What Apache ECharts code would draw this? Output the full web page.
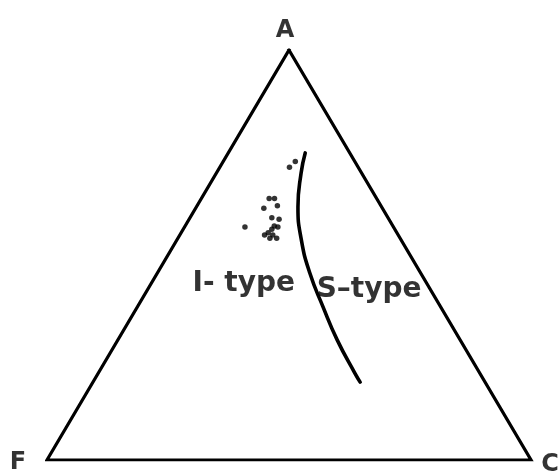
<!DOCTYPE html>
<html>
<head>
<meta charset="utf-8">
<script src="https://cdn.jsdelivr.net/npm/echarts@6/dist/echarts.min.js"></script>
<style>
  html, body { margin: 0; padding: 0; background: #fff; }
  #chart { width: 559px; height: 476px; }
</style>
</head>
<body>
<div id="chart"></div>
<script>
// AFC ternary diagram: compositions given as [A, C, F] in percent.
const vertexNames = ['A', 'F', 'C'];
const vertexComps = [[100, 0, 0], [0, 0, 100], [0, 100, 0]];

// Analysed samples [A, C, F]
const samples = [
  [71.4, 14.4, 14.2], [72.8, 14.9, 12.3], [63.8, 14.0, 22.2], [63.8, 15.1, 21.1],
  [61.4, 14.1, 24.5], [62.0, 16.6, 21.4], [59.1, 16.9, 24.0], [58.7, 18.6, 22.7],
  [56.8, 12.5, 30.7], [57.1, 18.4, 24.5], [56.8, 19.3, 23.9], [56.3, 18.3, 25.4],
  [54.9, 17.5, 27.6], [55.4, 18.0, 26.6], [54.1, 19.0, 26.9], [54.1, 20.4, 25.5],
  [54.9, 19.2, 25.9]
];

// I-type / S-type dividing line [A, C, F]
const divider = [
  [74.9, 15.9, 9.2], [70.0, 17.5, 12.5], [61.7, 21.0, 17.3], [53.7, 25.7, 20.6],
  [45.6, 31.5, 22.9], [37.3, 38.4, 24.3], [29.3, 45.3, 25.4], [21.2, 53.0, 25.8],
  [19.0, 55.2, 25.8]
];

// Field labels [A, C, F]
const fieldNames = ['I- type', 'S\u2013type'];
const fieldComps = [[42.9, 19.2, 37.9], [41.5, 45.8, 12.7]];

// ternary -> cartesian (x along F–C base, y = A fraction)
function toXY(comp) {
  const a = comp[0] / 100, c = comp[1] / 100;
  return [c + a / 2, a];
}

const triangle = [vertexComps[0], vertexComps[2], vertexComps[1], vertexComps[0]].map(toXY);
const font = 'DejaVu Sans';
const ink = '#000000';

const vertexLabelOffsets = [[-4, -19], [-29, 3], [19, 5]];

const chart = echarts.init(document.getElementById('chart'));
chart.setOption({
  animation: false,
  backgroundColor: '#ffffff',
  grid: { left: 47, right: 28, top: 50, bottom: 16 },
  xAxis: { type: 'value', min: 0, max: 1, show: false },
  yAxis: { type: 'value', min: 0, max: 1, show: false },
  series: [
    {
      type: 'line',
      data: triangle,
      symbol: 'none',
      lineStyle: { color: ink, width: 3.2, join: 'miter', cap: 'square' },
      silent: true
    },
    {
      type: 'line',
      data: divider.map(toXY),
      symbol: 'none',
      smooth: 0.5,
      lineStyle: { color: ink, width: 3.6, cap: 'round' },
      silent: true
    },
    {
      type: 'scatter',
      data: samples.map(toXY),
      symbol: 'circle',
      symbolSize: 5.5,
      itemStyle: { color: ink },
      silent: true
    },
    {
      type: 'scatter',
      data: vertexComps.map((c, i) => ({
        value: toXY(c),
        label: { formatter: vertexNames[i], offset: vertexLabelOffsets[i], color: ink }
      })),
      symbolSize: 0,
      label: {
        show: true, position: 'inside', color: ink, textBorderWidth: 0,
        fontFamily: font, fontSize: 24, fontWeight: 'bold'
      },
      silent: true
    },
    {
      type: 'scatter',
      data: fieldComps.map((c, i) => ({
        value: toXY(c),
        label: { formatter: fieldNames[i], color: ink }
      })),
      symbolSize: 0,
      label: {
        show: true, position: 'inside', color: ink, textBorderWidth: 0,
        fontFamily: font, fontSize: 28, fontWeight: 'bold'
      },
      silent: true
    }
  ]
});
</script>
</body>
</html>
